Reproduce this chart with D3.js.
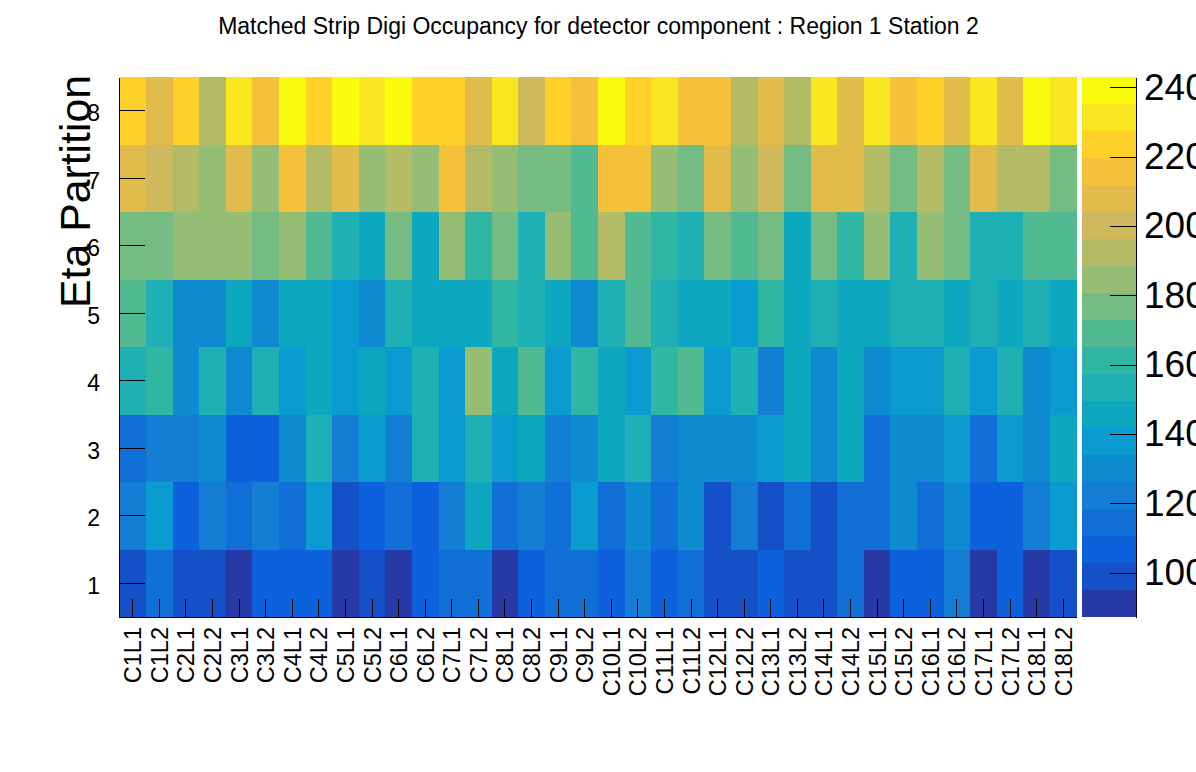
<!DOCTYPE html>
<html>
<head>
<meta charset="UTF-8">
<script src="https://d3js.org/d3.v7.min.js"></script>
<style>
	body { margin: 0; background: #fff; }
	svg { display: block; }
	text { font-family: "Liberation Sans", sans-serif; fill: #000; }
	.cell, .box { shape-rendering: crispEdges; }
	.axis path, .axis line { stroke: #000; stroke-width: 1; shape-rendering: crispEdges; }
</style>
</head>
<body>
<svg id="chart" width="1196" height="772"></svg>
<script>
var chambers = [];
for (var c = 1; c <= 18; c++) { chambers.push("C" + c + "L1", "C" + c + "L2"); }
var partitions = [8, 7, 6, 5, 4, 3, 2, 1];

// occupancy, one list per eta partition
var eta8 = [224,208,224,192,231,216,239,224,239,231,239,224, 224,208,231,200,224,216,239,224,231,216,216,192, 208,192,231,208,231,216,224,208,231,208,239,231];
var eta7 = [208,200,192,185,208,185,216,192,208,185,192,185, 216,192,185,177,177,169,216,216,185,177,208,185, 200,177,208,208,192,177,192,177,208,192,192,177];
var eta6 = [177,177,185,185,185,177,185,169,153,146,177,146, 185,161,177,153,185,169,192,169,161,153,177,169, 177,146,177,161,185,153,185,177,153,153,169,169];
var eta5 = [169,153,130,130,146,130,146,146,138,130,153,146, 146,146,161,153,146,130,153,169,153,146,146,138, 161,146,153,146,146,153,153,146,153,146,153,146];
var eta4 = [153,161,130,153,130,153,138,146,138,146,138,153, 138,185,146,169,138,161,146,138,161,169,138,153, 122,146,130,146,130,138,138,153,138,153,130,138];
var eta3 = [115,122,122,130,107,107,130,153,122,138,122,153, 138,153,138,146,122,130,146,153,122,130,130,130, 138,146,130,146,115,130,130,138,115,138,130,146];
var eta2 = [122,138,107,122,115,122,115,138,99,107,115,107, 122,146,115,122,115,138,115,130,115,130,99,122, 99,115,99,115,115,130,115,130,107,107,122,138];
var eta1 = [99,115,99,99,91,107,107,107,91,99,91,107, 115,115,91,107,115,115,107,122,107,115,99,99, 107,99,99,115,91,107,107,122,91,107,91,99];
var occupancy = [eta8, eta7, eta6, eta5, eta4, eta3, eta2, eta1];

var colorTicks = [100, 120, 140, 160, 180, 200, 220, 240];
var colorDomain = [87.2, 243];
var levels = ["#2639a5","#1450c8","#0e61dc","#1070d8","#137ed4","#0e8bd0","#0a9bd0","#0da8c0","#1eb0b4","#2fb7a4",
	"#52ba92","#74bc82","#95be74","#b3bb66","#d0b85c","#e2bc4a","#f4c23a","#fed12a","#fae61e","#fafb0c"];

var Left = 119.5, Right = 1076.5, Top = 77, Bottom = 617;

var svg = d3.select("#chart");
var XScale = d3.scaleBand().domain(chambers).range([Left, Right]);
var YScale = d3.scaleBand().domain(partitions).range([Top, Bottom]);
var ColorScale = d3.scaleQuantize().domain(colorDomain).range(levels);
var ZScale = d3.scaleLinear().domain(colorDomain).range([Bottom, Top]);

partitions.forEach(function(p, i) {
	svg.append("g").selectAll("rect")
		.data(occupancy[i])
		.enter().append("rect")
		.attr("class", "cell")
		.attr("x", function(d, j) { return XScale(chambers[j]); })
		.attr("y", YScale(p))
		.attr("width", XScale.bandwidth() + 0.5)
		.attr("height", YScale.bandwidth() + 0.5)
		.attr("fill", function(d) { return ColorScale(d); });
});

// palette
svg.append("g").selectAll("rect")
	.data(levels)
	.enter().append("rect")
	.attr("class", "box")
	.attr("x", 1082)
	.attr("width", 54)
	.attr("y", function(d) { return ZScale(ColorScale.invertExtent(d)[1]); })
	.attr("height", function(d) {
		var e = ColorScale.invertExtent(d);
		return ZScale(e[0]) - ZScale(e[1]);
	})
	.attr("fill", function(d) { return d; });

var XAxis = svg.append("g")
	.attr("class", "axis")
	.attr("transform", "translate(0," + Bottom + ")")
	.call(d3.axisBottom(XScale).tickSize(-18).tickSizeOuter(0));
XAxis.selectAll("text")
	.attr("transform", "rotate(-90)")
	.attr("x", -10)
	.attr("y", 0)
	.attr("dx", 0)
	.attr("dy", "0.36em")
	.style("text-anchor", "end")
	.style("font-size", "23.5px");

var YAxis = svg.append("g")
	.attr("class", "axis")
	.attr("transform", "translate(119,0)")
	.call(d3.axisLeft(YScale).tickSize(-26).tickSizeOuter(0));
YAxis.selectAll("text")
	.attr("x", -19)
	.attr("dy", "0.45em")
	.style("text-anchor", "end")
	.style("font-size", "23px");

var ZAxis = svg.append("g")
	.attr("class", "axis")
	.attr("transform", "translate(1136,0)")
	.call(d3.axisRight(ZScale).tickValues(colorTicks).tickSize(-26).tickSizeOuter(0).tickFormat(d3.format("d")));
ZAxis.selectAll("text")
	.attr("x", 8)
	.style("font-size", "37px");

svg.append("text")
	.attr("x", 598.5)
	.attr("y", 34)
	.attr("text-anchor", "middle")
	.style("font-size", "23px")
	.text("Matched Strip Digi Occupancy for detector component : Region 1 Station 2");

svg.append("text")
	.attr("transform", "translate(90,308) rotate(-90)")
	.style("font-size", "42.8px")
	.text("Eta Partition");
</script>
</body>
</html>
